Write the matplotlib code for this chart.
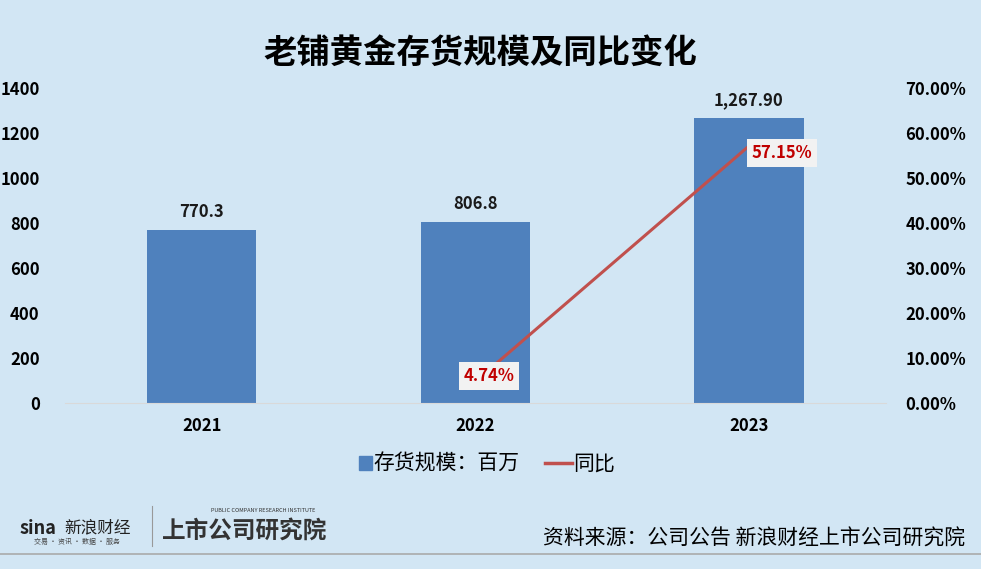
import matplotlib
matplotlib.use("Agg")
import matplotlib.pyplot as plt
from matplotlib.ticker import FuncFormatter

plt.rcParams['font.family'] = ['Noto Sans CJK SC', 'DejaVu Sans']

# --- data ---
years = ["2021", "2022", "2023"]
inventory = [770.3, 806.8, 1267.9]
inventory_labels = ["770.3", "806.8", "1,267.90"]
yoy_years = ["2022", "2023"]
yoy = [4.74, 57.15]
yoy_labels = ["4.74%", "57.15%"]

bg = "#d2e6f4"
bar_color = "#4f81bd"
line_color = "#c0504d"

fig = plt.figure(figsize=(9.81, 5.69), dpi=100, facecolor=bg)
ax = fig.add_axes([0.066, 0.292, 0.837, 0.553], facecolor=bg)
ax2 = ax.twinx()

x = list(range(len(years)))
ax.bar(x, inventory, width=0.4, color=bar_color, zorder=2)
for xi, v, lab in zip(x, inventory, inventory_labels):
    ax.text(xi, v + 40, lab, ha="center", va="bottom", fontsize=12,
            fontweight="bold", color="#1a1a1a")

ax.set_xlim(-0.5, 2.5)
ax.set_ylim(0, 1400)
ax.set_yticks(range(0, 1401, 200))
ax.set_xticks(x)
ax.set_xticklabels(years, fontsize=12, fontweight="bold")
for lab in ax.get_yticklabels():
    lab.set_fontsize(12)
    lab.set_fontweight("bold")
ax.tick_params(length=0, pad=10)
ax.tick_params(axis="y", pad=18)
for s in ["top", "right", "left"]:
    ax.spines[s].set_visible(False)
ax.spines["bottom"].set_color("#d9d9d9")

# yoy line
yx = [years.index(y) for y in yoy_years]
ax2.plot(yx, yoy, color=line_color, linewidth=2.2, zorder=3)
ax2.set_ylim(0, 70)
ax2.set_yticks(range(0, 71, 10))
ax2.yaxis.set_major_formatter(FuncFormatter(lambda v, p: f"{v:.2f}%"))
for lab in ax2.get_yticklabels():
    lab.set_fontsize(12)
    lab.set_fontweight("bold")
ax2.tick_params(length=0, pad=14)
for s in ["top", "right", "left", "bottom"]:
    ax2.spines[s].set_visible(False)

offsets = [(0.05, 1.2), (0.12, -1.5)]
for xi, v, lab, (dx, dy) in zip(yx, yoy, yoy_labels, offsets):
    ax2.text(xi + dx, v + dy, lab, ha="center", va="center", fontsize=12,
             fontweight="bold", color="#c00000", zorder=5,
             bbox=dict(boxstyle="square,pad=0.3", facecolor="#f2f2f2",
                       edgecolor="none"))

# title
fig.text(0.49, 0.905, "老铺黄金存货规模及同比变化", ha="center", va="center",
         fontsize=24, fontweight="bold", color="black")

# legend
fig.patches.append(plt.Rectangle((0.366, 0.174), 0.013, 0.024,
                                 transform=fig.transFigure, color=bar_color))
fig.text(0.381, 0.186, "存货规模：百万", ha="left", va="center", fontsize=15)
fig.lines.append(plt.Line2D([0.556, 0.583], [0.186, 0.186],
                            transform=fig.transFigure, color=line_color,
                            linewidth=2.5))
fig.text(0.584, 0.186, "同比", ha="left", va="center", fontsize=15)

# footer
fig.text(0.02, 0.072, "sina", ha="left", va="center", fontsize=13,
         fontweight="bold", style="italic", color="#222222")
fig.text(0.066, 0.072, "新浪财经", ha="left", va="center", fontsize=12,
         color="#222222")
fig.text(0.035, 0.048, "交易 · 资讯 · 数据 · 服务", ha="left", va="center",
         fontsize=5, color="#444444")
fig.lines.append(plt.Line2D([0.155, 0.155], [0.04, 0.11],
                            transform=fig.transFigure, color="#999999",
                            linewidth=0.8))
fig.text(0.165, 0.068, "上市公司研究院", ha="left", va="center", fontsize=17,
         fontweight="bold", style="italic", color="#333333")
fig.text(0.215, 0.103, "PUBLIC COMPANY RESEARCH INSTITUTE", ha="left",
         va="center", fontsize=4, color="#333333")
fig.text(0.984, 0.054, "资料来源：公司公告 新浪财经上市公司研究院", ha="right",
         va="center", fontsize=15, color="black")
fig.lines.append(plt.Line2D([0, 1], [0.026, 0.026], transform=fig.transFigure,
                            color="#aaaaaa", linewidth=1.2))

fig.savefig("out.png", dpi=100, facecolor=bg)
